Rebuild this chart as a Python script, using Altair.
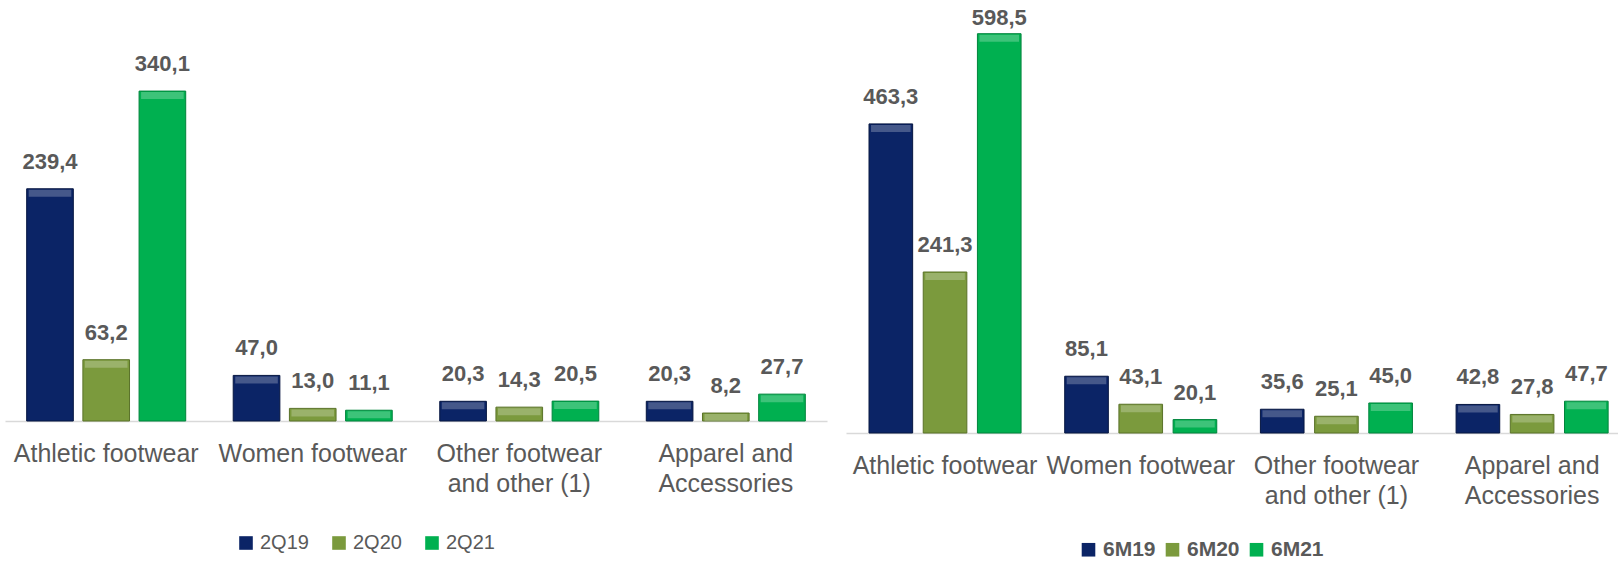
import altair as alt
import pandas as pd

categories = ["Athletic footwear", "Women footwear", "Other footwear|and other (1)", "Apparel and|Accessories"]

q_series = ["2Q19", "2Q20", "2Q21"]
q19 = [239.4, 47.0, 20.3, 20.3]
q20 = [63.2, 13.0, 14.3, 8.2]
q21 = [340.1, 11.1, 20.5, 27.7]

m_series = ["6M19", "6M20", "6M21"]
m19 = [463.3, 85.1, 35.6, 42.8]
m20 = [241.3, 43.1, 25.1, 27.8]
m21 = [598.5, 20.1, 45.0, 47.7]

colors = ["#0B2466", "#7B9A3D", "#00B050"]
strokes = ["#061640", "#5A7229", "#00843C"]
TEXT = "#595959"
FONT = "Liberation Sans"


def make_df(series, values):
    rows = []
    for s, vals in zip(series, values):
        for c, v in zip(categories, vals):
            rows.append({"category": c, "series": s, "v": v})
    return pd.DataFrame(rows)


def panel(series, values, ymax, width, height, pin, pout, align, opad, barw,
          lx, ly, lfs, lweight, lcolpad, top_clamp):
    df = make_df(series, values)
    base = alt.Chart(df).transform_calculate(
        lab="replace(format(datum.v, '.1f'), '.', ',')"
    )
    x = alt.X(
        "category:N", sort=categories,
        scale=alt.Scale(paddingInner=pin, paddingOuter=pout, align=align),
        axis=alt.Axis(
            title=None, labelExpr="split(datum.label, '|')", ticks=False,
            domainColor="#D9D9D9", domainWidth=1.5, labelFont=FONT,
            labelFontSize=25, labelColor=TEXT, labelPadding=20,
            labelLineHeight=30, labelLimit=400, labelOverlap=False, labelAngle=0,
        ),
    )
    y = alt.Y("v:Q", scale=alt.Scale(domain=[0, ymax], nice=False, zero=True), axis=None)
    xo = alt.XOffset("series:N", sort=series, scale=alt.Scale(paddingInner=opad, paddingOuter=0))
    color = alt.Color(
        "series:N", sort=series,
        scale=alt.Scale(domain=series, range=colors),
        legend=alt.Legend(
            title=None, orient="none", direction="horizontal", columns=3,
            legendX=lx, legendY=ly, symbolType="square", symbolSize=185,
            symbolStrokeWidth=0, labelFont=FONT, labelFontSize=lfs,
            labelFontWeight=lweight, labelColor=TEXT, labelOffset=4,
            columnPadding=lcolpad, padding=0,
        ),
    )
    stroke = alt.Stroke("series:N", sort=series,
                        scale=alt.Scale(domain=series, range=strokes), legend=None)
    bars = base.mark_bar(strokeWidth=1).encode(x=x, y=y, xOffset=xo, color=color, stroke=stroke)
    bevel = base.mark_tick(color="white", opacity=0.24, thickness=7, size=barw - 4,
                           yOffset=4.5).encode(x=x, y=y, xOffset=xo)
    txt_kw = dict(fontSize=22, fontWeight="bold", color=TEXT, font=FONT, baseline="middle")
    t1 = base.transform_filter(f"datum.v < {top_clamp}").mark_text(dy=-27, **txt_kw).encode(
        x=x, y=y, xOffset=xo, text="lab:N")
    t2 = base.transform_filter(f"datum.v >= {top_clamp}").mark_text(dy=-16, **txt_kw).encode(
        x=x, y=y, xOffset=xo, text="lab:N")
    return alt.layer(bars, bevel, t1, t2).properties(width=width, height=height)


left = panel(q_series, [q19, q20, q21], 434, 822, 421, 0.23, 0.105, 0.5, 0.17, 46.6,
             231, 533, 20, "normal", 20, 100000)
right = panel(m_series, [m19, m20, m21], 649, 772, 433, 0.223, 0.084, 0.70, 0.195, 43.6,
              232, 539, 21, "bold", 6, 550)

chart = alt.hconcat(left, right, spacing=19).resolve_scale(
    x="independent", y="independent", color="independent", stroke="independent", xOffset="independent"
).resolve_legend(color="independent").properties(
    padding={"left": 5, "top": 0, "right": 0, "bottom": 0},
    background="white",
).configure_view(stroke=None)

chart.save("out.html", embed_options={"renderer": "svg", "actions": False})
